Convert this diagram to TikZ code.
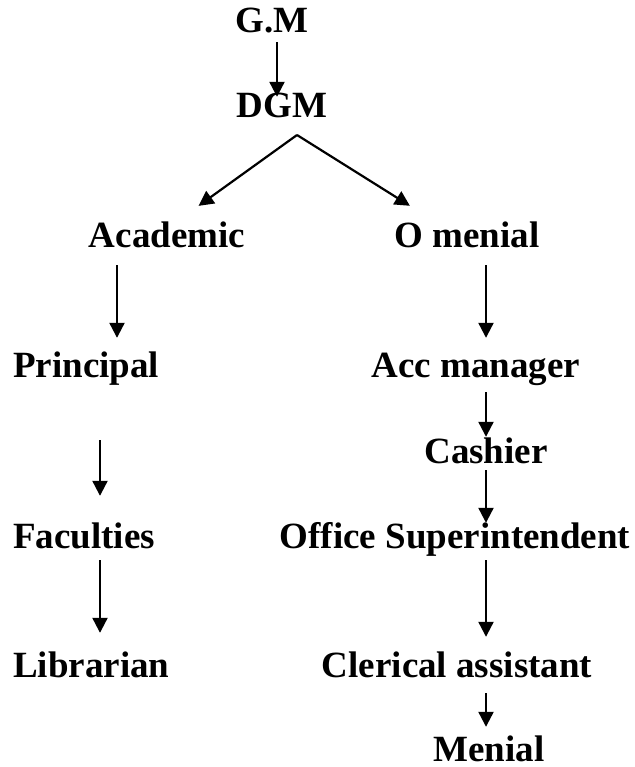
\documentclass[tikz,border=0pt]{standalone}
\usepackage{fontspec}
\setmainfont{Liberation Serif}
\usetikzlibrary{arrows.meta}
\tikzset{
    x=1pt, y=-1pt, % one unit per pixel, y runs downwards
    post/.style={font=\fontsize{37}{44}\selectfont\bfseries, inner sep=0pt, text height=24pt, text depth=0pt, anchor=base}, % sets the look of each post
    link/.style={-{Triangle[width=15pt,length=15pt]}, line width=2.2pt}, % the arrows between posts
}
\begin{document}
\begin{tikzpicture}
                            \useasboundingbox (0,0) rectangle (634,767);
                            \node[post] (gm) at (272,33) {G.M};
                            \node[post] (dgm) at (282,118) {DGM};
                            \node[post] (acad) at (167,247) {Academic};
                            \node[post] (omen) at (467,247) {O menial};
                            \node[post, anchor=base west] (prin) at (13,377) {Principal};
                            \node[post] (acc) at (476,377) {Acc manager};
                            \node[post] (cash) at (486,463) {Cashier};
                            \node[post, anchor=base west] (fac) at (13,548) {Faculties};
                            \node[post] (office) at (455,548) {Office Superintendent};
                            \node[post, anchor=base west] (lib) at (13,677) {Librarian};
                            \node[post] (cler) at (457,677) {Clerical assistant};
                            \node[post] (menial) at (489,761) {Menial};
                            \coordinate (split) at (297,135);
                            \draw
                            (gm.south -| 277,0) edge[link, shorten <=9pt, shorten >=-3pt] (dgm.north -| 277,0)
                            (split) edge[link, shorten >=29pt] (acad.north -| 175,0)
                            (split) edge[link, shorten >=32pt] (omen.north -| 437,0)
                            (acad.south -| 117,0) edge[link, shorten <=18pt, shorten >=15pt] (prin.north -| 117,0)
                            (omen.south -| 486,0) edge[link, shorten <=18pt, shorten >=15pt] (acc.north -| 486,0)
                            (prin.south -| 100,0) edge[link, shorten <=63pt, shorten >=28pt] (fac.north -| 100,0)
                            (acc.south -| 486,0) edge[link, shorten <=15pt, shorten >=2pt] (cash.north -| 486,0)
                            (cash.south -| 486,0) edge[link, shorten <=7pt, shorten >=1pt] (office.north -| 486,0)
                            (fac.south -| 100,0) edge[link, shorten <=12pt, shorten >=20pt] (lib.north -| 100,0)
                            (office.south -| 486,0) edge[link, shorten <=12pt, shorten >=16pt] (cler.north -| 486,0)
                            (cler.south -| 486,0) edge[link, shorten <=16pt, shorten >=10pt] (menial.north -| 486,0);
                        \end{tikzpicture}
\end{document}
